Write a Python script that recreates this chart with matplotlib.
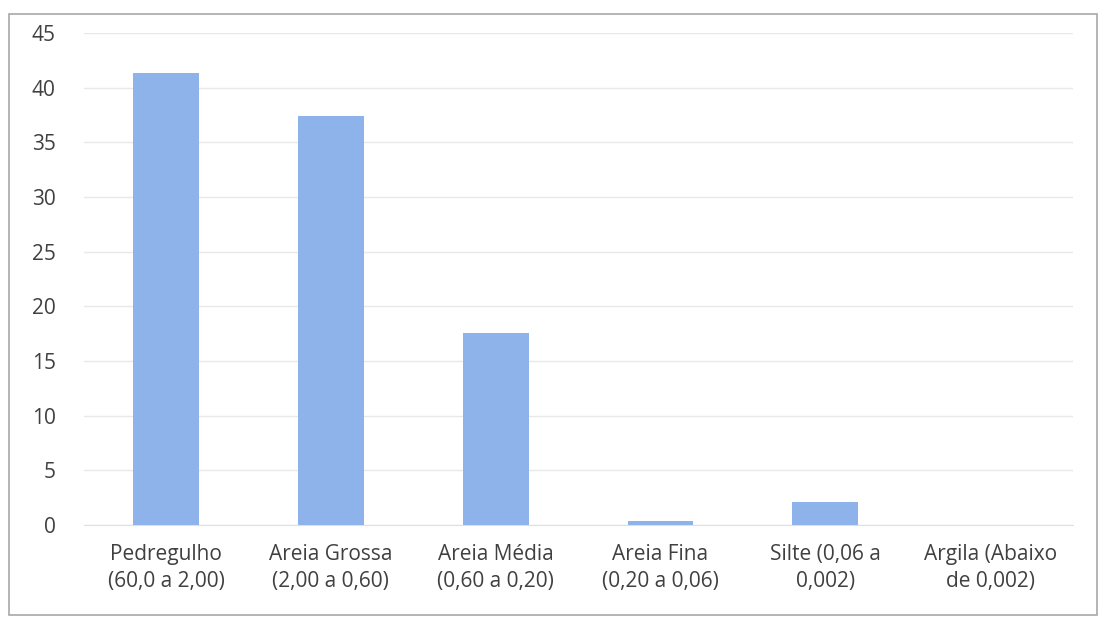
import matplotlib.pyplot as plt
import numpy as np

# soil fractions (particle size in mm)
categories = ['Pedregulho\n(60,0 a 2,00)', 'Areia Grossa\n(2,00 a 0,60)',
              'Areia Média\n(0,60 a 0,20)', 'Areia Fina\n(0,20 a 0,06)',
              'Silte (0,06 a\n0,002)', 'Argila (Abaixo\nde 0,002)']
values = [41.3, 37.4, 17.6, 0.4, 2.1, 0.0]
yticks = [0, 5, 10, 15, 20, 25, 30, 35, 40, 45]

plt.rcParams['font.family'] = ['Open Sans', 'DejaVu Sans']

fig = plt.figure(figsize=(10.99, 6.22), dpi=100)
ax = fig.add_axes([0.076, 0.156, 0.9, 0.791])

x = np.arange(len(categories))
ax.bar(x, values, width=0.4, color='#8db3ea', zorder=3)

ax.set_xlim(-0.5, len(categories) - 0.5)
ax.set_ylim(0, 45)
ax.set_yticks(yticks)
ax.set_xticks(x)
ax.set_xticklabels(categories, fontsize=15, color='#404040', linespacing=1.35)
ax.tick_params(axis='y', labelsize=15, labelcolor='#404040', length=0, pad=20)
ax.tick_params(axis='x', length=0, pad=14)
ax.grid(axis='y', color='#e8e8e8', linewidth=1, zorder=0)
for s in ['top', 'right', 'left']:
    ax.spines[s].set_visible(False)
ax.spines['bottom'].set_color('#e0e0e0')

# outer chart border
fig.patches.append(plt.Rectangle((0.008, 0.012), 0.99, 0.965, transform=fig.transFigure,
                                 fill=False, edgecolor='#a8a8a8', linewidth=1.2))

fig.savefig('out.png', dpi=100)
